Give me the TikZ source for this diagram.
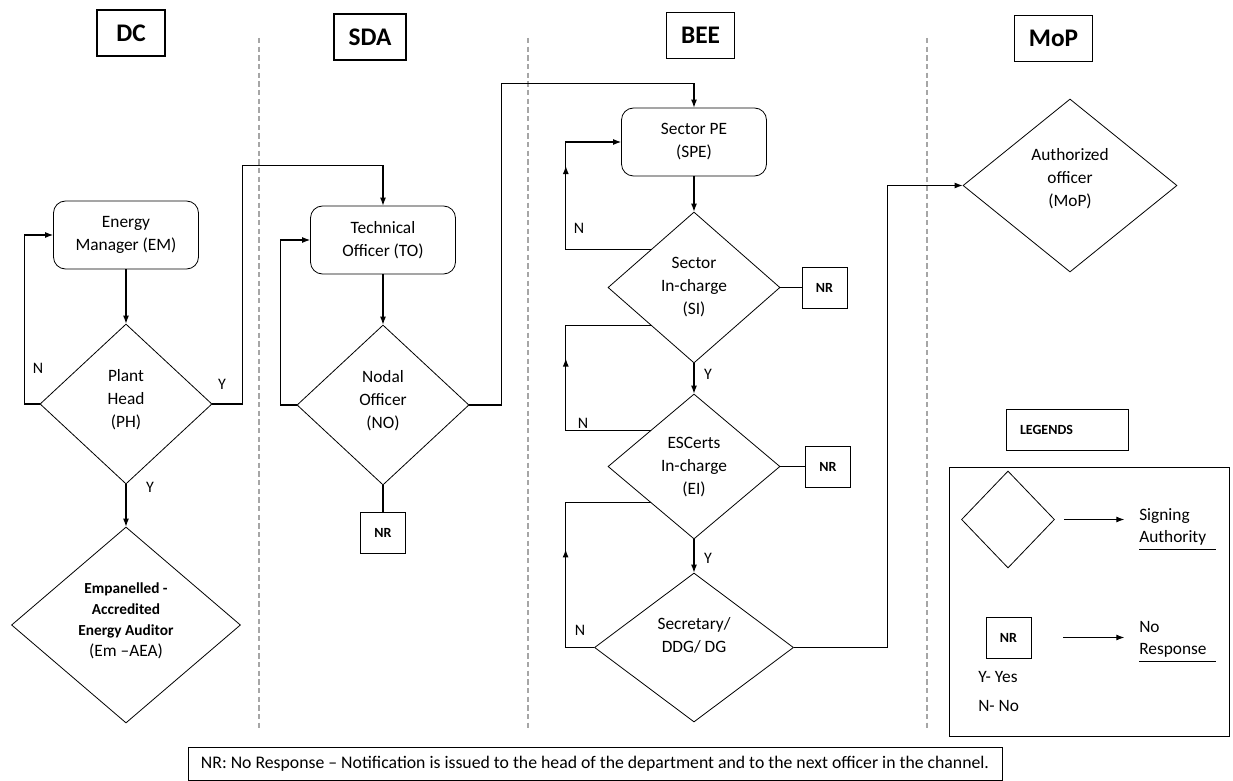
\documentclass[tikz,border=0pt]{standalone}
\usepackage{fontspec}
\setmainfont{Carlito}
\usepackage{tikz}
\usetikzlibrary{arrows,arrows.meta,calc,positioning,shapes,decorations.markings}

\newcommand{\dtext}[2][0pt]{\smash{\makebox[0pt]{\raisebox{#1}{\begin{tabular}{@{}c@{}}#2\end{tabular}}}}}

\tikzset{
  lane/.style={gray!70, dash pattern=on 4pt off 2.5pt, line width=0.8pt},
  hdr/.style={draw, line width=0.8pt, font=\fontsize{19}{21}\selectfont\bfseries, minimum width=51pt, minimum height=34.5pt, inner xsep=11pt},
  officer/.style={draw, rounded corners=9pt, line width=0.6pt, minimum width=108.75pt, minimum height=51pt, align=center, font=\fontsize{13}{17.25}\selectfont},
  sign/.style={draw, diamond, line width=0.6pt, inner sep=0pt, font=\fontsize{13}{17.25}\selectfont},
  nrbox/.style={draw, line width=0.7pt, minimum width=33.75pt, minimum height=30.75pt, inner sep=0pt, font=\fontsize{10.5}{12}\selectfont\bfseries},
  yn/.style={font=\fontsize{12}{14}\selectfont, inner sep=0pt},
  keytext/.style={inner sep=0pt, text width=57pt, align=left, font=\fontsize{13}{16.5}\selectfont},
  link/.style={->, line width=0.8pt},
  uparrow/.style={postaction={decorate}, decoration={markings, mark=at position #1 with {\arrow{>}}}},
}

\begin{document}
\begin{tikzpicture}[x=0.75pt, y=-0.75pt, >={Latex[length=6pt,width=4.5pt]}]
        \useasboundingbox (0,0) rectangle (1233,781);

        \draw[lane] (259,38) -- (259,730);
        \draw[lane] (528,38) -- (528,730);
        \draw[lane] (927,38) -- (927,730);

        \node[hdr] (dc) at (131,33) {DC};
        \node[hdr] (sda) at (370,37) {SDA};
        \node[hdr] (bee) at (700.5,35.5) {BEE};
        \node[hdr] (mophdr) at (1053.5,38.5) {MoP};

        % DC
        \node[officer] (em) at (126,235) {Energy\\Manager (EM)};
        \node[sign, minimum width=129pt, minimum height=120pt] (ph) at (126,404) {\dtext{Plant\\Head\\(PH)}};
        \node[sign, minimum width=171.75pt, minimum height=147pt, font=\fontsize{11.5}{15.75}\selectfont\bfseries] (aea) at (126,625)
            {\dtext{Empanelled -\\Accredited\\Energy Auditor\\\mdseries\fontsize{13}{15.75}\selectfont (Em –AEA)}};

        % SDA
        \node[officer] (to) at (383,240) {Technical\\Officer (TO)};
        \node[sign, minimum width=129pt, minimum height=120pt] (nod) at (383,405) {\dtext{Nodal\\Officer\\(NO)}};
        \node[nrbox] (nrno) at (383,532.5) {NR};

        % BEE
        \node[officer] (spe) at (694,142) {Sector PE\\(SPE)};
        \node[sign, minimum width=129pt, minimum height=113.25pt] (si) at (694,287.5) {\dtext[-2.5pt]{Sector\\In-charge\\(SI)}};
        \node[nrbox] (nrsi) at (824.5,287.5) {NR};
        \node[sign, minimum width=129pt, minimum height=108.75pt] (ei) at (694,466.5) {\dtext[-3pt]{ESCerts\\In-charge\\(EI)}};
        \node[nrbox] (nrei) at (828,466.5) {NR};
        \node[sign, minimum width=149.25pt, minimum height=111.75pt] (sd) at (694,647.5) {\dtext[5.5pt]{Secretary/\\DDG/ DG}};

        % MoP
        \node[sign, minimum width=160.5pt, minimum height=129.75pt] (mop) at (1070,185.5) {\dtext[2pt]{Authorized\\officer\\(MoP)}};

        \draw[link] (em.south) -- (ph.north);
        \draw[link] (ph.west) -- ++(-15,0) |- (em.west);
        \draw[link] (ph.east) -- ++(30,0) |- ([yshift=30pt]to.north) -- (to.north);
        \draw[link] (ph.south) -- (aea.north);

        \draw[link] (to.south) -- (nod.north);
        \draw[link] (nod.west) -- ++(-16,0) |- (to.west);
        \draw[line width=0.8pt] (nod.south) -- (nrno.north);
        \draw[link] (nod.east) -- ++(32,0) |- ([yshift=18pt]spe.north) -- (spe.north);

        \draw[link] (spe.south) -- (si.north);
        \draw[link, uparrow=0.68] (si.north west) -- ++(-85,0) |- (spe.west);
        \draw[line width=0.8pt] (si.east) -- (nrsi.west);
        \draw[link] (si.south) -- (ei.north);
        \draw[line width=0.8pt, uparrow=0.57] (ei.north west) -- ++(-85,0) |- (si.south west);
        \draw[line width=0.8pt] (ei.east) -- (nrei.west);
        \draw[link] (ei.south) -- (sd.north);
        \draw[line width=0.8pt, uparrow=0.49] (sd.west) -- ++(-28.5,0) |- (ei.south west);
        \draw[link] (sd.east) -- ++(94,0) |- (mop.west);

        \node[yn] (nph) at (38,368) {N};
        \node[yn] (yph) at (222,384) {Y};
        \node[yn] (yaea) at (150,487) {Y};
        \node[yn] (nsi) at (579,228) {N};
        \node[yn] (ysi) at (708,374) {Y};
        \node[yn] (nei) at (583,423) {N};
        \node[yn] (yei) at (708,558) {Y};
        \node[yn] (nsd) at (580,630) {N};

        % legend
        \node[draw, line width=0.7pt, text width=70.5pt, inner xsep=10.5pt, minimum height=30.75pt, align=left, font=\fontsize{10.5}{12}\selectfont\bfseries] (lgt) at (1067,429.5) {LEGENDS};
        \draw[line width=0.7pt] (949,467) rectangle (1229,736);
        \node[sign, minimum width=69.75pt, minimum height=72.75pt] (lgd) at (1008,519.5) {};
        \node[keytext, anchor=north west] (sig) at (1139,508) {Signing\\Authority};
        \draw[link, shorten <=7pt, shorten >=11pt] (lgd.east) -- (lgd.east -| sig.west);
        \draw ([yshift=-3pt]sig.south west) -- ([yshift=-3pt]sig.south east);
        \node[nrbox] (lgnr) at (1008.5,637.5) {NR};
        \node[keytext, anchor=north west] (nores) at (1139,621) {No\\Response};
        \draw[link, shorten <=24pt, shorten >=11pt] (lgnr.east) -- (lgnr.east -| nores.west);
        \draw ([yshift=-3pt]nores.south west) -- ([yshift=-3pt]nores.south east);
        \node[yn, anchor=west, font=\fontsize{13}{15}\selectfont] (yes) at (978,677) {Y- Yes};
        \node[yn, anchor=west, font=\fontsize{13}{15}\selectfont] (nono) at (978,706) {N- No};

        \node[draw, line width=0.7pt, minimum width=610.5pt, minimum height=24.75pt, font=\fontsize{13.3}{15}\selectfont] (note) at (595,763.5)
            {NR: No Response – Notification is issued to the head of the department and to the next officer in the channel.};
\end{tikzpicture}
\end{document}
